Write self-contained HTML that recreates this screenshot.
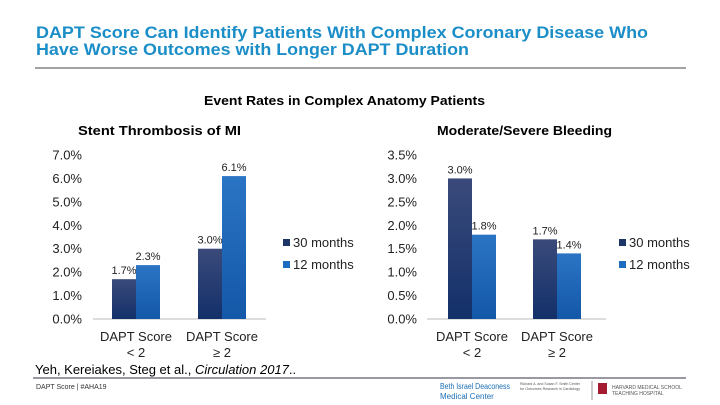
<!DOCTYPE html>
<html><head><meta charset="utf-8"><style>
body{margin:0;width:720px;height:405px;background:#fff;overflow:hidden;font-family:"Liberation Sans",Arial,sans-serif}
svg{position:absolute;left:0;top:0}
</style></head><body>
<svg id="s" width="720" height="405">
<text x="36" y="38" font-size="17" font-weight="bold" fill="#1b8ec8" textLength="612" lengthAdjust="spacingAndGlyphs">DAPT Score Can Identify Patients With Complex Coronary Disease Who</text>
<text x="36" y="55" font-size="17" font-weight="bold" fill="#1b8ec8" textLength="433" lengthAdjust="spacingAndGlyphs">Have Worse Outcomes with Longer DAPT Duration</text>
<line x1="35" y1="68" x2="686" y2="68" stroke="#444" stroke-width="1"/>
<text x="204" y="105" font-size="13" font-weight="bold" textLength="281" lengthAdjust="spacingAndGlyphs">Event Rates in Complex Anatomy Patients</text>
<text x="78" y="135" font-size="13" font-weight="bold" textLength="163" lengthAdjust="spacingAndGlyphs">Stent Thrombosis of MI</text>
<text x="437" y="135" font-size="13" font-weight="bold" textLength="175" lengthAdjust="spacingAndGlyphs">Moderate/Severe Bleeding</text>
<text x="35" y="374" font-size="13">Yeh, Kereiakes, Steg et al., <tspan font-style="italic">Circulation 2017</tspan>..</text>
<line x1="33" y1="378" x2="686" y2="378" stroke="#334" stroke-width="1"/>
<text x="36" y="389" font-size="7" fill="#333">DAPT Score | #AHA19</text>
<text x="440" y="389" font-size="8" fill="#1b6fb5" textLength="70" lengthAdjust="spacingAndGlyphs">Beth Israel Deaconess</text>
<text x="440" y="399" font-size="8" fill="#1b6fb5">Medical Center</text>
<text x="520" y="385" font-size="4" fill="#555" textLength="60" lengthAdjust="spacingAndGlyphs">Richard A. and Susan F. Smith Center</text>
<text x="520" y="390" font-size="4" fill="#555" textLength="60" lengthAdjust="spacingAndGlyphs">for Outcomes Research in Cardiology</text>
<line x1="592" y1="381" x2="592" y2="400" stroke="#999"/>
<rect x="598" y="383" width="9" height="11" fill="#a51c30"/>
<text x="612" y="389" font-size="5" fill="#555">HARVARD MEDICAL SCHOOL</text>
<text x="612" y="395" font-size="5" fill="#555">TEACHING HOSPITAL</text>
<defs>
<linearGradient id="gd" x1="0" y1="0" x2="0" y2="1"><stop offset="0" stop-color="#3a4a7a"/><stop offset="1" stop-color="#13306a"/></linearGradient>
<linearGradient id="gl" x1="0" y1="0" x2="0" y2="1"><stop offset="0" stop-color="#2b74c4"/><stop offset="1" stop-color="#1458a8"/></linearGradient>
</defs>
</svg>
<script>
const categories=["DAPT Score|< 2","DAPT Score|≥ 2"];
const seriesNames=["30 months","12 months"];
const stentValues30=[1.7,3.0];
const stentValues12=[2.3,6.1];
const bleedValues30=[3.0,1.7];
const bleedValues12=[1.8,1.4];
const stentTicks=[0,1,2,3,4,5,6,7];
const bleedTicks=[0,0.5,1,1.5,2,2.5,3,3.5];
const s=document.getElementById('s');
const NS='http://www.w3.org/2000/svg';
function mk(t,a,txt){const e=document.createElementNS(NS,t);for(const k in a)e.setAttribute(k,a[k]);if(txt!==undefined)e.textContent=txt;s.appendChild(e);return e;}
function chart(pre,ax0,ax1,labX,maxV,ticks,v30,v12,barStarts,legX){
  const y0=319,yTop=155;
  const y=v=>y0-(v/maxV)*(y0-yTop);
  ticks.forEach(t=>{const e=mk('text',{x:labX,y:y(t)+4.5,'font-size':13,'text-anchor':'end',fill:'#222'},t.toFixed(1)+'%');
    });
  const ax=mk('line',{x1:ax0,y1:y0,x2:ax1,y2:y0,stroke:'#bbb'});
  
  const bw=24;
  categories.forEach((c,i)=>{
    const bx=barStarts[i];
    [[v30[i],'url(#gd)','30'],[v12[i],'url(#gl)','12']].forEach((d,j)=>{
      const x=bx+j*bw;
      const r=mk('rect',{x:x,y:y(d[0]),width:bw,height:y0-y(d[0]),fill:d[1]});
      
      const l=mk('text',{x:x+bw/2,y:y(d[0])-5,'font-size':11,'text-anchor':'middle',fill:'#222'},d[0].toFixed(1)+'%');
      
    });
    const parts=c.split('|');
    const c1=mk('text',{x:bx+bw,y:341,'font-size':13,'text-anchor':'middle',fill:'#222'},parts[0]);
    
    const c2=mk('text',{x:bx+bw,y:357,'font-size':13,'text-anchor':'middle',fill:'#222'},parts[1]);
    
  });
  seriesNames.forEach((n,k)=>{
    const r=mk('rect',{x:legX,y:239+k*22,width:7,height:7,fill:k?'#1c6cc0':'#1d3566'});
    
    const t=mk('text',{x:legX+10,y:247+k*22,'font-size':13,fill:'#222'},n);
    
  });
}
chart('stent',93,266,82,7,stentTicks,stentValues30,stentValues12,[112,198],283);
chart('bleed',427,606,417,3.5,bleedTicks,bleedValues30,bleedValues12,[448,533],619);
</script>
</body></html>
